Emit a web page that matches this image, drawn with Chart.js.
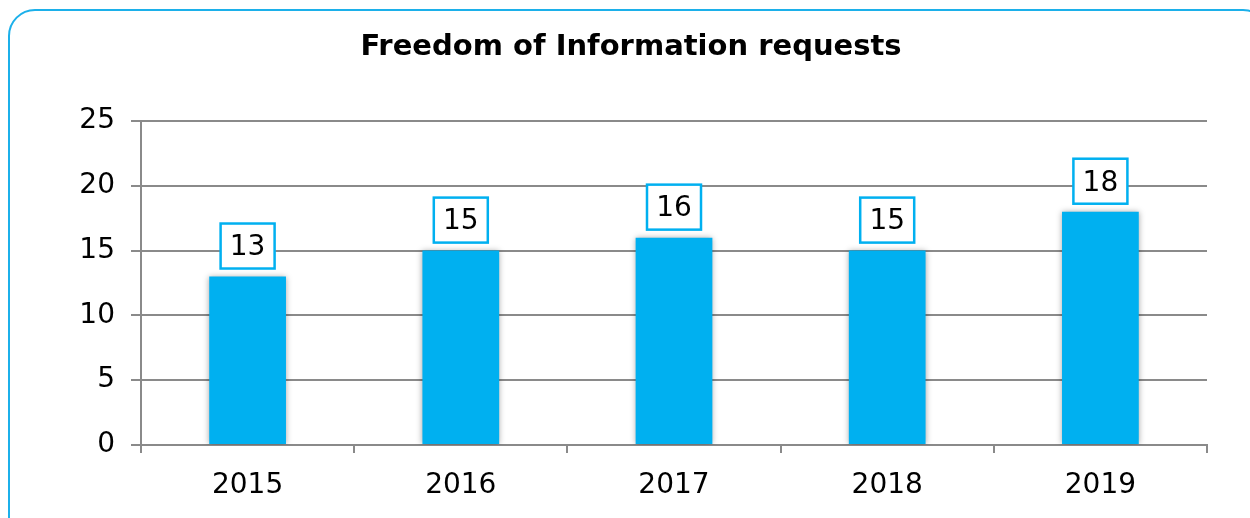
<!DOCTYPE html>
<html>
<head>
<meta charset="utf-8">
<script src="https://cdn.jsdelivr.net/npm/chart.js@4.4.1/dist/chart.umd.min.js"></script>
<style>
    html, body { margin: 0; padding: 0; background: #fff; overflow: hidden; }
    #frame {
        position: absolute; left: 8px; top: 9px;
        width: 1262px; height: 540px;
        border: 2.5px solid #1cb0ea; border-radius: 27px;
        box-sizing: border-box;
    }
    #wrap { position: absolute; left: 0; top: 0; width: 1250px; height: 518px; }
</style>
</head>
<body>
<div id="frame"></div>
<div id="wrap"><canvas id="foiChart"></canvas></div>
<script>
// Chart data
const chartTitle = 'Freedom of Information requests';
const years = ['2015', '2016', '2017', '2018', '2019'];
const requests = [13, 15, 16, 15, 18];
const yTicks = [0, 5, 10, 15, 20, 25];

const FONT = "'DejaVu Sans', Verdana, sans-serif";
const BLUE = '#00b0f0';
const GRID = '#8a8a8a';

// title is centred on the whole frame, not on the plot area
const frameTitle = {
    id: 'frameTitle',
    afterDraw(chart) {
        const ctx = chart.ctx;
        ctx.save();
        ctx.font = `bold 29px ${FONT}`;
        ctx.fillStyle = '#000';
        ctx.textAlign = 'center';
        ctx.textBaseline = 'middle';
        ctx.fillText(chartTitle, 631, 47);
        ctx.restore();
    }
};

// soft grey shadow behind the bars
const barShadow = {
    id: 'barShadow',
    beforeDatasetDraw(chart) {
        const ctx = chart.ctx;
        ctx.save();
        ctx.shadowColor = 'rgba(0, 0, 0, 0.35)';
        ctx.shadowBlur = 6;
        ctx.shadowOffsetX = 0;
        ctx.shadowOffsetY = 0;
    },
    afterDatasetDraw(chart) {
        chart.ctx.restore();
    }
};

// boxed value labels above each bar
const boxLabels = {
    id: 'boxLabels',
    afterDatasetsDraw(chart) {
        const ctx = chart.ctx;
        const meta = chart.getDatasetMeta(0);
        const values = chart.data.datasets[0].data;
        ctx.save();
        ctx.font = `28px ${FONT}`;
        ctx.textAlign = 'center';
        ctx.textBaseline = 'middle';
        meta.data.forEach((bar, i) => {
            const { x, y } = bar.getProps(['x', 'y'], true);
            const w = 54, h = 45;
            const bottom = y - 8;
            ctx.fillStyle = '#fff';
            ctx.fillRect(x - w / 2, bottom - h, w, h);
            ctx.strokeStyle = BLUE;
            ctx.lineWidth = 2.5;
            ctx.strokeRect(x - w / 2, bottom - h, w, h);
            ctx.fillStyle = '#000';
            ctx.fillText(String(values[i]), x, bottom - h / 2 + 2);
        });
        ctx.restore();
    }
};

new Chart(document.getElementById('foiChart'), {
    type: 'bar',
    data: {
        labels: years,
        datasets: [{
            data: requests,
            backgroundColor: BLUE,
            borderWidth: 0,
            barPercentage: 0.36,
            categoryPercentage: 1
        }]
    },
    options: {
        responsive: true,
        maintainAspectRatio: false,
        animation: false,
        layout: { padding: { left: 0, right: 43, top: 121, bottom: 0 } },
        plugins: {
            legend: { display: false },
            tooltip: { enabled: false },
            title: { display: false }
        },
        scales: {
            x: {
                offset: true,
                grid: {
                    offset: true,
                    drawOnChartArea: false,
                    drawTicks: true,
                    tickLength: 8,
                    color: GRID,
                    lineWidth: 2
                },
                border: { display: true, color: GRID, width: 2 },
                ticks: {
                    color: '#000',
                    padding: 16,
                    font: { family: FONT, size: 28 }
                },
                afterFit(scale) { scale.height = 518 - 445; }
            },
            y: {
                min: 0,
                max: 25,
                afterBuildTicks(scale) { scale.ticks = yTicks.map(v => ({ value: v })); },
                grid: {
                    color: GRID,
                    lineWidth: 2,
                    tickLength: 10
                },
                border: { display: true, color: GRID, width: 2 },
                ticks: {
                    color: '#000',
                    padding: 16,
                    font: { family: FONT, size: 28 }
                },
                afterFit(scale) { scale.width = 141; }
            }
        }
    },
    plugins: [barShadow, boxLabels, frameTitle]
});
</script>
</body>
</html>
